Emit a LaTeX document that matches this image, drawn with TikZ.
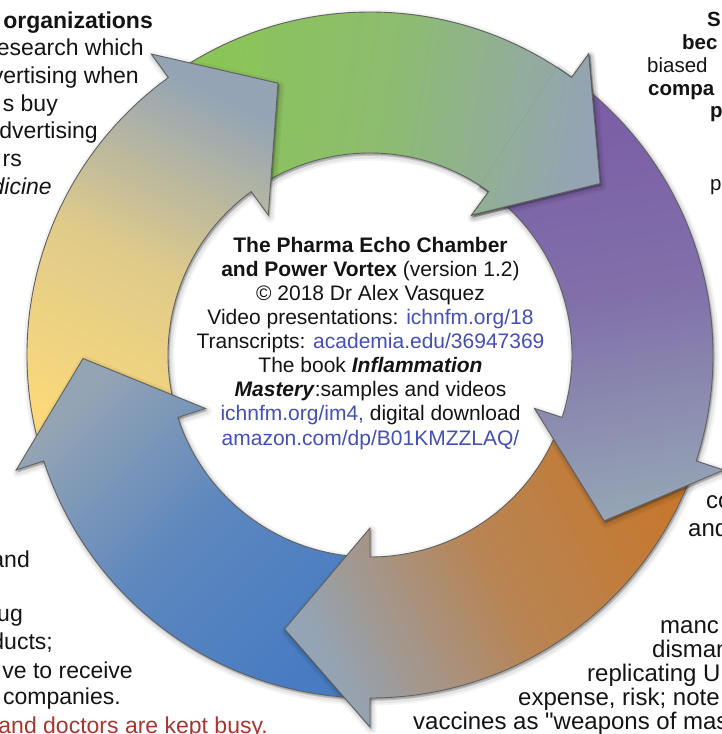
\documentclass[tikz,border=0pt]{standalone}
\usepackage{fontspec}
\setmainfont{Liberation Sans}[Ligatures=TeXOff]
\definecolor{gTail}{RGB}{138,198,84}
\definecolor{pTail}{RGB}{122,92,166}
\definecolor{oTail}{RGB}{198,120,46}
\definecolor{bTail}{RGB}{72,124,194}
\definecolor{yTail}{RGB}{251,217,122}
\definecolor{headc}{RGB}{148,164,180}
\definecolor{inkc}{RGB}{20,20,20}
\definecolor{linkc}{RGB}{68,80,178}
\definecolor{redc}{RGB}{165,55,50}
\newcommand\lnk[1]{\textcolor{linkc}{#1}}
\newcommand\arrowpath[1]{({#1+72}:343pt) arc[start angle={#1+72}, end angle={#1}, radius=343pt] -- ({#1}:372pt) -- ({#1-17.3}:287pt) -- ({#1}:173pt) -- ({#1}:202pt) arc[start angle={#1}, end angle={#1+72}, radius=202pt] -- cycle}
\newcommand\ringarrow[3]{%
  \path[haloA] \arrowpath{#1};
  \path[haloB] \arrowpath{#1};
  \path[haloC] \arrowpath{#1};
  \path[arrowbody, bottom color=#2, top color=headc, middle color=#2!72!headc, shading angle=#3] \arrowpath{#1};
}
\tikzset{
  haloA/.style={fill=black, draw=black, line width=10pt, opacity=0.045, line join=round, shift={(1.5pt,-2.5pt)}},
  haloB/.style={fill=black, draw=black, line width=6pt, opacity=0.06, line join=round, shift={(1.5pt,-2.5pt)}},
  haloC/.style={fill=black, draw=black, line width=2.5pt, opacity=0.1, line join=round, shift={(1pt,-1.5pt)}},
  arrowbody/.style={draw=black!62, line width=0.9pt, line join=miter, miter limit=10},
  ltext/.style={inner sep=0pt, font=\fontsize{23}{26}\selectfont, text=inkc, anchor=base east},
  lbtext/.style={inner sep=0pt, font=\fontsize{23}{27}\selectfont, text=inkc, anchor=base east},
  rtext/.style={inner sep=0pt, font=\fontsize{20.5}{23}\selectfont, text=inkc, anchor=base west},
  rbtext/.style={inner sep=0pt, font=\fontsize{24}{27}\selectfont, text=inkc, anchor=base west},
  ctext/.style={inner sep=0pt, font=\fontsize{21}{24}\selectfont, text=inkc, anchor=base}
}
\begin{document}
\begin{tikzpicture}[x=1pt,y=1pt]
\useasboundingbox (0,0) rectangle (721,-734);
\fill[white] (0,0) rectangle (721,-734);
\begin{scope}[shift={(370,-355)}]
  \ringarrow{54}{gTail}{-99}
  \ringarrow{126}{yTail}{-27}
  \ringarrow{198}{bTail}{45}
  \ringarrow{-90}{oTail}{117}
  \ringarrow{-18}{pTail}{-171}
  \begin{scope}
    \clip (0,0) -- (26:430) -- (57:430) -- cycle;
    \ringarrow{54}{gTail}{-99}
  \end{scope}
\end{scope}
% centre text
\node[ctext] (c1) at (370.5,-252) {\textbf{The Pharma Echo Chamber}};
\node[ctext] (c2) at (370.5,-276) {\textbf{and Power Vortex} (version 1.2)};
\node[ctext] (c3) at (370.5,-300) {© 2018 Dr Alex Vasquez};
\node[ctext] (c4) at (370.5,-324) {Video presentations: \lnk{ichnfm.org/18}};
\node[ctext] (c5) at (370.5,-348.5) {Transcripts: \lnk{academia.edu/36947369}};
\node[ctext] (c6) at (370.5,-372.5) {The book \textbf{\textit{Inflammation}}};
\node[ctext] (c7) at (370.5,-396.5) {\textbf{\textit{Mastery}}:samples and videos};
\node[ctext] (c8) at (370.5,-420.5) {\lnk{ichnfm.org/im4,} digital download};
\node[ctext] (c9) at (370.5,-445) {\lnk{amazon.com/dp/B01KMZZLAQ/}};
% left top
\node[ltext] (l1) at (153,-28) {\textbf{organizations}};
\node[ltext] (l2) at (144,-55.7) {esearch which};
\node[ltext] (l3) at (139,-83.4) {vertising when};
\node[ltext] (l4) at (58,-111) {s buy};
\node[ltext] (l5) at (98,-138.8) {dvertising};
\node[ltext] (l6) at (22,-166.5) {rs};
\node[ltext] (l7) at (52,-194) {\textit{dicine}};
% left bottom
\node[lbtext] (b1) at (30,-567) {and};
\node[lbtext] (b2) at (23,-621.5) {ug};
\node[lbtext] (b3) at (53,-649) {ducts;};
\node[lbtext] (b4) at (133,-678) {ve to receive};
\node[lbtext] (b5) at (121,-704) {companies.};
\node[lbtext, text=redc] (b6) at (268,-733) {and doctors are kept busy.};
% right top
\node[rtext] (r1) at (707,-26) {\textbf{S}};
\node[rtext] (r2) at (682,-49) {\textbf{bec}};
\node[rtext] (r3) at (647,-72) {biased};
\node[rtext] (r4) at (648,-95) {\textbf{compa}};
\node[rtext] (r5) at (710,-117) {\textbf{p}};
\node[rtext] (r6) at (710,-190) {p};
% right bottom
\node[rbtext] (r7) at (706,-508) {co};
\node[rbtext] (r8) at (688,-536) {and};
\node[rbtext] (r9) at (660,-633) {manc};
\node[rbtext] (r10) at (652,-657) {disman};
\node[rbtext] (r11) at (587,-681) {replicating U};
\node[rbtext] (r12) at (518,-705) {expense, risk; note};
\node[rbtext] (r13) at (413,-729) {vaccines as "weapons of mas};
\end{tikzpicture}
\end{document}
